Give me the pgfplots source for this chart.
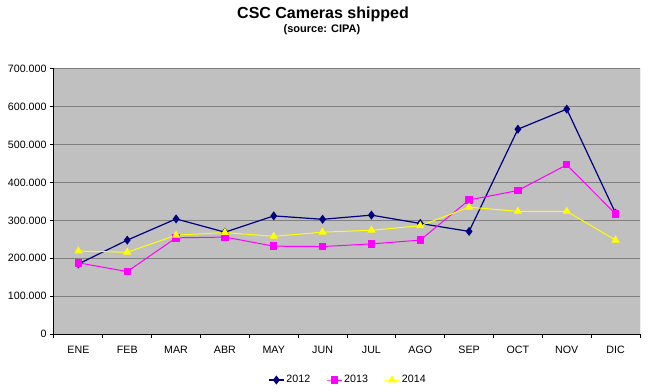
\documentclass[border=0pt]{standalone}
\usepackage{pgfplots}
\pgfplotsset{compat=1.18}
\usepackage{fontspec}
\setmainfont{Liberation Sans}
\definecolor{plotbg}{RGB}{192,192,192}
\definecolor{gridgray}{RGB}{128,128,128}
\definecolor{c2012}{RGB}{0,0,128}
\definecolor{c2013}{RGB}{255,0,255}
\definecolor{c2014}{RGB}{255,255,0}
\begin{document}
\begin{tikzpicture}[x=1pt,y=1pt]
\path[use as bounding box] (0,0) rectangle (650,391);
\node[font=\fontsize{16}{18}\selectfont\bfseries, anchor=base] at (323,372) {CSC Cameras shipped};
\node[font=\fontsize{11}{13}\selectfont\bfseries, anchor=base] at (322,358) {(source: CIPA)};
\begin{axis}[
  at={(54pt,57pt)}, anchor=south west,
  scale only axis, width=586pt, height=265pt,
  xmin=-0.5, xmax=11.5, ymin=0, ymax=700000,
  scaled y ticks=false,
  axis x line*=bottom, axis y line*=left,
  axis line style={black, line width=1pt},
  axis background/.style={fill=plotbg},
  xtick={-0.5,0.5,...,11.5},
  xticklabels={ENE,FEB,MAR,ABR,MAY,JUN,JUL,AGO,SEP,OCT,NOV,DIC,{}},
  x tick label style={xshift=24.42pt, yshift=-5pt},
  ytick={0,100000,200000,300000,400000,500000,600000,700000},
  yticklabels={0,100.000,200.000,300.000,400.000,500.000,600.000,700.000},
  tick label style={font=\fontsize{10.67}{12}\selectfont, black},
  tick align=outside, major tick length=4pt,
  tick style={black, line width=1pt},
  ymajorgrids, major grid style={gridgray, line width=1pt},
  legend columns=3,
  legend style={at={(0.5017,-0.1736)}, anchor=center, draw=none, fill=none,
    font=\fontsize{10.67}{12}\selectfont,
    /tikz/every even column/.append style={column sep=14pt}},
  legend image code/.code={\draw[mark repeat=2,mark phase=2] plot coordinates {(0pt,0pt) (7.5pt,0pt) (15pt,0pt)};},
]
\addplot[c2012, line width=1.2pt, mark=diamond*, mark size=3.6pt, mark options={solid, fill=c2012}] coordinates {
 (0,185000) (1,248000) (2,304000) (3,269000) (4,312000) (5,303000)
 (6,314000) (7,292000) (8,271000) (9,541000) (10,594000) (11,319000)};
\addlegendentry{2012}
\addplot[c2013, line width=1pt, mark=square*, mark size=3.2pt, mark options={solid, fill=c2013}] coordinates {
 (0,188000) (1,165000) (2,254000) (3,256000) (4,232000) (5,231000)
 (6,238000) (7,248000) (8,354000) (9,379000) (10,447000) (11,317000)};
\addlegendentry{2013}
\addplot[c2014, line width=1pt, mark=triangle*, mark size=3.8pt, mark options={solid, fill=c2014}] coordinates {
 (0,219000) (1,216000) (2,261000) (3,268000) (4,258000) (5,269000)
 (6,274000) (7,286000) (8,335000) (9,324000) (10,324000) (11,248000)};
\addlegendentry{2014}
\draw[gridgray, line width=1pt] (rel axis cs:0,1) -- (rel axis cs:1,1) -- (rel axis cs:1,0);
\end{axis}
\end{tikzpicture}
\end{document}
